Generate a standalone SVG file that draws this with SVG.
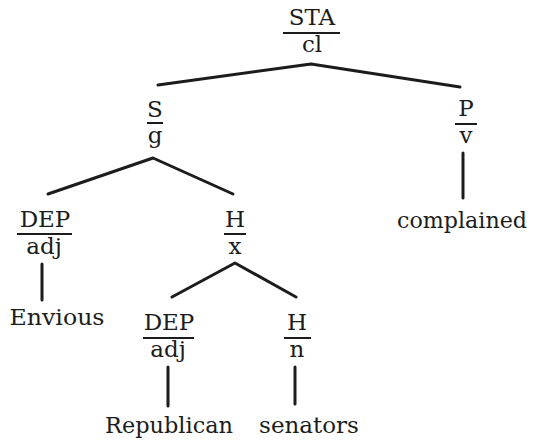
<svg xmlns="http://www.w3.org/2000/svg" width="533" height="441" viewBox="0 0 533 441">
<style>
text{font-family:"DejaVu Serif","Liberation Serif",serif;font-size:23px;fill:#1c1c1c;text-anchor:middle}
.bar{stroke:#1c1c1c;stroke-width:2}
.edge{stroke:#1c1c1c;stroke-width:3;fill:none;stroke-linecap:round;stroke-linejoin:round}
</style>
<rect width="533" height="441" fill="#fff"/>
<g id="connectors">
<polyline class="edge" points="158,85 311,64 460,87"/>
<polyline class="edge" points="48,194 153,158 233,194"/>
<polyline class="edge" points="172,297 235,263 296,297"/>
<line class="edge" x1="42" y1="264" x2="42" y2="300"/>
<line class="edge" x1="168" y1="367" x2="168" y2="406"/>
<line class="edge" x1="295" y1="367" x2="295" y2="404"/>
<line class="edge" x1="463" y1="153" x2="463" y2="198"/>
</g>
<g id="n-sta"><text x="312" y="25">STA</text><line class="bar" x1="283" y1="33" x2="340" y2="33"/><text x="312" y="52">cl</text></g>
<g id="n-s"><text x="155" y="117">S</text><line class="bar" x1="147" y1="123" x2="163" y2="123"/><text x="155" y="143">g</text></g>
<g id="n-p"><text x="466" y="116">P</text><line class="bar" x1="455" y1="124" x2="477" y2="124"/><text x="466" y="143">v</text></g>
<g id="n-complained"><text x="462" y="228" textLength="130" lengthAdjust="spacingAndGlyphs">complained</text></g>
<g id="n-dep1"><text x="45" y="227">DEP</text><line class="bar" x1="17" y1="234" x2="72" y2="234"/><text x="44" y="254">adj</text></g>
<g id="n-h1"><text x="235" y="227">H</text><line class="bar" x1="224" y1="234" x2="246" y2="234"/><text x="235" y="254">x</text></g>
<g id="n-envious"><text x="57" y="325" textLength="95" lengthAdjust="spacingAndGlyphs">Envious</text></g>
<g id="n-dep2"><text x="169" y="330">DEP</text><line class="bar" x1="143" y1="338" x2="194" y2="338"/><text x="168" y="357">adj</text></g>
<g id="n-h2"><text x="297" y="330">H</text><line class="bar" x1="284" y1="338" x2="311" y2="338"/><text x="297" y="357">n</text></g>
<g id="n-republican"><text x="169" y="433" textLength="128" lengthAdjust="spacingAndGlyphs">Republican</text></g>
<g id="n-senators"><text x="309" y="433">senators</text></g>
</svg>
